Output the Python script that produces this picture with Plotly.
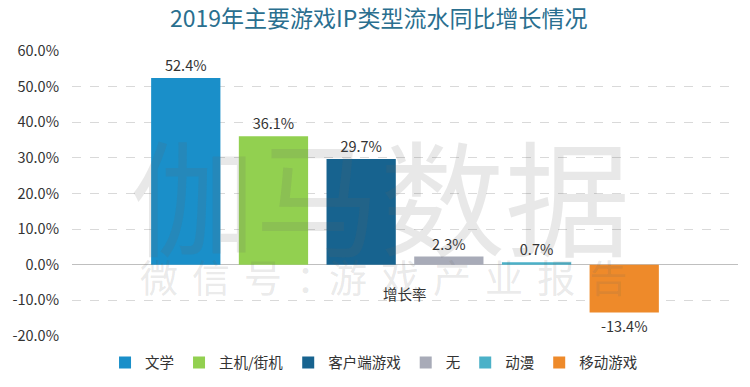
import plotly.graph_objects as go

categories = ["文学", "主机/街机", "客户端游戏", "无", "动漫", "移动游戏"]
values = [52.4, 36.1, 29.7, 2.3, 0.7, -13.4]
colors = ["#1a8fc9", "#92d050", "#17638f", "#a8abb8", "#4bb1c8", "#ee8a2a"]
x_label = "增长率"
tick_vals = [-20, -10, 0, 10, 20, 30, 40, 50, 60]
tick_text = [f"{v:.1f}%" for v in tick_vals]

font = "Noto Sans CJK SC"
fig = go.Figure()
for name, v, c in zip(categories, values, colors):
    fig.add_trace(go.Bar(
        x=[x_label], y=[v], name=name, marker=dict(color=c, line=dict(width=0)),
        text=[f"{v:.1f}%"], textposition="outside", cliponaxis=False,
        textfont=dict(size=14.5, color="#333333", family=font),
    ))

fig.update_layout(
    width=750, height=387,
    margin=dict(l=72, r=12, t=51, b=51, autoexpand=False),
    paper_bgcolor="white", plot_bgcolor="white",
    barmode="group", bargap=0.21, bargroupgap=0.21,
    title=dict(text="2019年主要游戏IP类型流水同比增长情况", x=0.505, xanchor="center",
               y=1 - 19 / 387, yanchor="middle",
               font=dict(size=23, color="#2a6f8f", family=font)),
    font=dict(family=font, color="#333333", size=14),
    showlegend=True,
    legend=dict(orientation="h", x=0.4535, xanchor="center", y=-0.0375, yanchor="top",
                font=dict(size=14.5, color="#333333", family=font),
                itemwidth=30, tracegroupgap=0, traceorder="normal"),
    xaxis=dict(showticklabels=False, showgrid=False, zeroline=False, showline=False),
    yaxis=dict(range=[-20, 60], tickvals=tick_vals, ticktext=tick_text,
               showgrid=True, gridcolor="#d9d9d9", griddash="dash", gridwidth=1,
               zeroline=True, zerolinecolor="#bfbfbf", zerolinewidth=1,
               showline=False, ticks="", tickfont=dict(size=14.5, color="#333333"),
               ticklabelstandoff=12),
)

fig.add_annotation(x=x_label, y=0, xref="x", yref="y", text=x_label, showarrow=False,
                   yanchor="top", yshift=-16, font=dict(size=14.5, color="#333333", family=font))

# watermark
fig.add_annotation(x=(380 - 72) / 666, y=(336 - 192) / 285, xref="paper", yref="paper",
                   xanchor="center", yanchor="middle",
                   text="伽马数据", showarrow=False,
                   font=dict(size=125, color="rgba(100,100,100,0.15)", family=font))
gap = '<span style="font-size:14px">\u3000</span>'
fig.add_annotation(x=(383 - 72) / 666, y=(336 - 275) / 285, xref="paper", yref="paper",
                   xanchor="center", yanchor="middle",
                   text=gap.join("微信号：游戏产业报告"),
                   showarrow=False,
                   font=dict(size=38, color="rgba(100,100,100,0.15)", family=font))

fig.write_html("out.html", post_script="document.body.style.margin='0';",
               config={"displayModeBar": False})
